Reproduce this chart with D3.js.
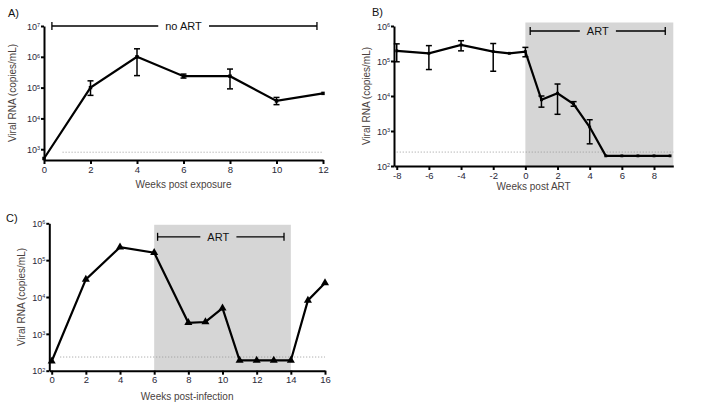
<!DOCTYPE html>
<html>
<head>
<meta charset="utf-8">
<script src="https://cdn.jsdelivr.net/npm/d3@7"></script>
<style>
  body { margin: 0; background: #fff; }
  svg { font-family: "Liberation Sans", Arial, sans-serif; }
</style>
</head>
<body>
<svg id="chart" width="707" height="410"></svg>
<script>
// panel A: weeks post exposure (no ART)
const weeksA = [0, 2, 4, 6, 8, 10, 12];
const rnaA = [500, 100000, 1000000, 235000, 235000, 37000, 65000];
const loA = [null, 56000, 245000, 204000, 91000, 28000, null];
const hiA = [null, 166000, 1820000, 275000, 400000, 48000, null];

// panel B: weeks post ART
const weeksB = [-8, -6, -4, -2, -1, 0, 1, 2, 3, 4, 5, 6, 7, 8, 9];
const rnaB = [195000, 166000, 288000, 186000, 166000, 186000, 7800, 12000, 5900, 1300, 195, 195, 195, 195, 195];
const loB = [95000, 57000, 195000, 51000, null, 132000, 4800, 3000, 5100, 430, null, null, null, null, null];
const hiB = [309000, 275000, 380000, 316000, null, 245000, 10000, 22000, 6900, 2100, null, null, null, null, null];

// panel C: weeks post-infection
const weeksC = [0, 2, 4, 6, 8, 9, 10, 11, 12, 13, 14, 15, 16];
const rnaC = [180, 30000, 225000, 160000, 2000, 2100, 5000, 190, 190, 190, 190, 8100, 24000];

const ticksA = [0, 2, 4, 6, 8, 10, 12];
const ticksB = [-8, -6, -4, -2, 0, 2, 4, 6, 8];
const ticksC = [0, 2, 4, 6, 8, 10, 12, 14, 16];
const limitA = 800, limitB = 250, limitC = 235;

const svg = d3.select("#chart");
const tickColor = "#2a2838";
const labelColor = "#4a4240";

function makePanel(p) {
    const g = svg.append("g");
    const x = d3.scaleLinear().domain(p.xDomain).range(p.xRange);
    const y = d3.scaleLog().domain(p.yDomain).range(p.yRange);

    if (p.shade) {
        g.append("rect")
            .attr("x", x(p.shade[0])).attr("width", x(p.shade[1]) - x(p.shade[0]))
            .attr("y", y(p.shade[2])).attr("height", y(p.yDomain[0]) - y(p.shade[2]))
            .attr("fill", "#d6d6d6");
    }

    // detection limit
    g.append("line")
        .attr("x1", x(p.limitFrom)).attr("x2", x(p.xDomain[1]))
        .attr("y1", y(p.limit)).attr("y2", y(p.limit))
        .attr("stroke", "#9a9a9a").attr("stroke-width", 1)
        .attr("stroke-dasharray", "1,2");

    // x axis
    const xAxis = g.append("g")
        .attr("transform", `translate(0,${p.yRange[0]})`)
        .call(d3.axisBottom(x).tickValues(p.xTicks).tickSize(4).tickSizeOuter(0)
            .tickFormat(d => String(d)));
    xAxis.select(".domain").attr("stroke", "#000").attr("stroke-width", 2);
    xAxis.selectAll(".tick line").attr("stroke", "#000").attr("stroke-width", 2);
    xAxis.selectAll("text").attr("fill", tickColor).attr("font-size", 9.5).attr("dy", "0.6em");

    // y axis
    const yAxis = g.append("g")
        .attr("transform", `translate(${p.xRange[0]},0)`)
        .call(d3.axisLeft(y).tickValues(p.yTicks).tickSize(3).tickSizeOuter(0).tickFormat(""));
    yAxis.select(".domain").attr("stroke", "#000").attr("stroke-width", 2);
    yAxis.selectAll(".tick line").attr("stroke", "#000").attr("stroke-width", 2);
    const yt = yAxis.selectAll(".tick").append("text")
        .attr("x", -4).attr("dy", "0.35em").attr("text-anchor", "end")
        .attr("fill", tickColor).attr("font-size", 9);
    yt.append("tspan").text("10");
    yt.append("tspan").attr("dy", "-0.45em").attr("font-size", 5.5)
        .text(d => Math.round(Math.log10(d)));

    // axis labels
    g.append("text")
        .attr("x", (p.xRange[0] + p.xRange[1]) / 2).attr("y", p.xLabelY)
        .attr("text-anchor", "middle").attr("font-size", 10).attr("fill", labelColor)
        .text(p.xLabel);
    g.append("text")
        .attr("transform", `translate(${p.yLabelX},${(p.yRange[0] + p.yRange[1]) / 2}) rotate(-90)`)
        .attr("text-anchor", "middle").attr("font-size", 10).attr("fill", labelColor)
        .text("Viral RNA (copies/mL)");

    // treatment bracket
    const by = y(p.bracket[2]);
    g.append("line")
        .attr("x1", x(p.bracket[0])).attr("x2", x(p.bracket[1]))
        .attr("y1", by).attr("y2", by)
        .attr("stroke", "#000").attr("stroke-width", 1.3);
    [p.bracket[0], p.bracket[1]].forEach(v => {
        g.append("line")
            .attr("x1", x(v)).attr("x2", x(v))
            .attr("y1", by - 4).attr("y2", by + 4)
            .attr("stroke", "#000").attr("stroke-width", 1.3);
    });
    const tx = x(p.bracketTextAt);
    const txt = g.append("text")
        .attr("x", tx).attr("y", by + 4)
        .attr("text-anchor", "middle").attr("font-size", 11).attr("fill", "#111")
        .text(p.bracketText);
    const bb = txt.node().getBBox();
    g.insert("rect", () => txt.node())
        .attr("x", bb.x - 7).attr("width", bb.width + 14)
        .attr("y", by - 2).attr("height", 4)
        .attr("fill", p.bracketBg);

    const pts = p.weeks.map((w, i) => ({ w, v: p.values[i], lo: p.lo ? p.lo[i] : null, hi: p.hi ? p.hi[i] : null }));

    // error bars
    pts.filter(d => d.lo != null).forEach(d => {
        const cx = x(d.w);
        g.append("line").attr("x1", cx).attr("x2", cx)
            .attr("y1", y(d.lo)).attr("y2", y(d.hi))
            .attr("stroke", "#000").attr("stroke-width", 1.5);
        [d.lo, d.hi].forEach(v => {
            g.append("line").attr("x1", cx - 3).attr("x2", cx + 3)
                .attr("y1", y(v)).attr("y2", y(v))
                .attr("stroke", "#000").attr("stroke-width", 1.5);
        });
    });

    g.append("path")
        .datum(pts)
        .attr("fill", "none").attr("stroke", "#000").attr("stroke-width", 2.2)
        .attr("d", d3.line().x(d => x(d.w)).y(d => y(d.v)));

    g.selectAll(".marker")
        .data(pts)
        .join("path")
        .attr("class", "marker")
        .attr("transform", d => `translate(${x(d.w)},${y(d.v)})`)
        .attr("d", d3.symbol().type(p.symbol).size(p.symbolSize))
        .attr("fill", "#000");

    svg.append("text")
        .attr("x", p.tag[0]).attr("y", p.tag[1])
        .attr("font-size", 11).attr("fill", "#111")
        .text(p.tag[2]);
}

makePanel({
    weeks: weeksA, values: rnaA, lo: loA, hi: hiA,
    xDomain: [0, 12], xRange: [44, 323],
    yDomain: [Math.pow(10, 2.65), 1e7], yRange: [160, 26],
    xTicks: ticksA, yTicks: [1e3, 1e4, 1e5, 1e6, 1e7],
    limit: limitA, limitFrom: 0.8,
    xLabel: "Weeks post exposure", xLabelY: 188, yLabelX: 16,
    bracket: [0.34, 11.74, 1e7], bracketText: "no ART", bracketTextAt: 6, bracketBg: "#fff",
    symbol: d3.symbolSquare, symbolSize: 12,
    tag: [8, 17, "A)"]
});

makePanel({
    weeks: weeksB, values: rnaB, lo: loB, hi: hiB,
    xDomain: [-8.17, 9.2], xRange: [394, 673.3],
    yDomain: [1e2, 1e6], yRange: [166, 26],
    xTicks: ticksB, yTicks: [1e2, 1e3, 1e4, 1e5, 1e6],
    limit: limitB, limitFrom: -8,
    xLabel: "Weeks post ART", xLabelY: 190, yLabelX: 370,
    bracket: [0.3, 8.7, 720000], bracketText: "ART", bracketTextAt: 4.5, bracketBg: "#d6d6d6",
    shade: [0, 9.2, Math.pow(10, 6.1)],
    symbol: d3.symbolSquare, symbolSize: 8,
    tag: [372, 16, "B)"]
});

makePanel({
    weeks: weeksC, values: rnaC,
    xDomain: [-0.14, 16], xRange: [49.3, 325],
    yDomain: [1e2, 1e6], yRange: [370.7, 223.3],
    xTicks: ticksC, yTicks: [1e2, 1e3, 1e4, 1e5, 1e6],
    limit: limitC, limitFrom: 0.5,
    xLabel: "Weeks post-infection", xLabelY: 400, yLabelX: 25,
    bracket: [6.2, 13.6, 430000], bracketText: "ART", bracketTextAt: 9.75, bracketBg: "#d6d6d6",
    shade: [6, 14, Math.pow(10, 5.96)],
    symbol: d3.symbolTriangle, symbolSize: 28,
    tag: [6, 222, "C)"]
});
</script>
</body>
</html>
